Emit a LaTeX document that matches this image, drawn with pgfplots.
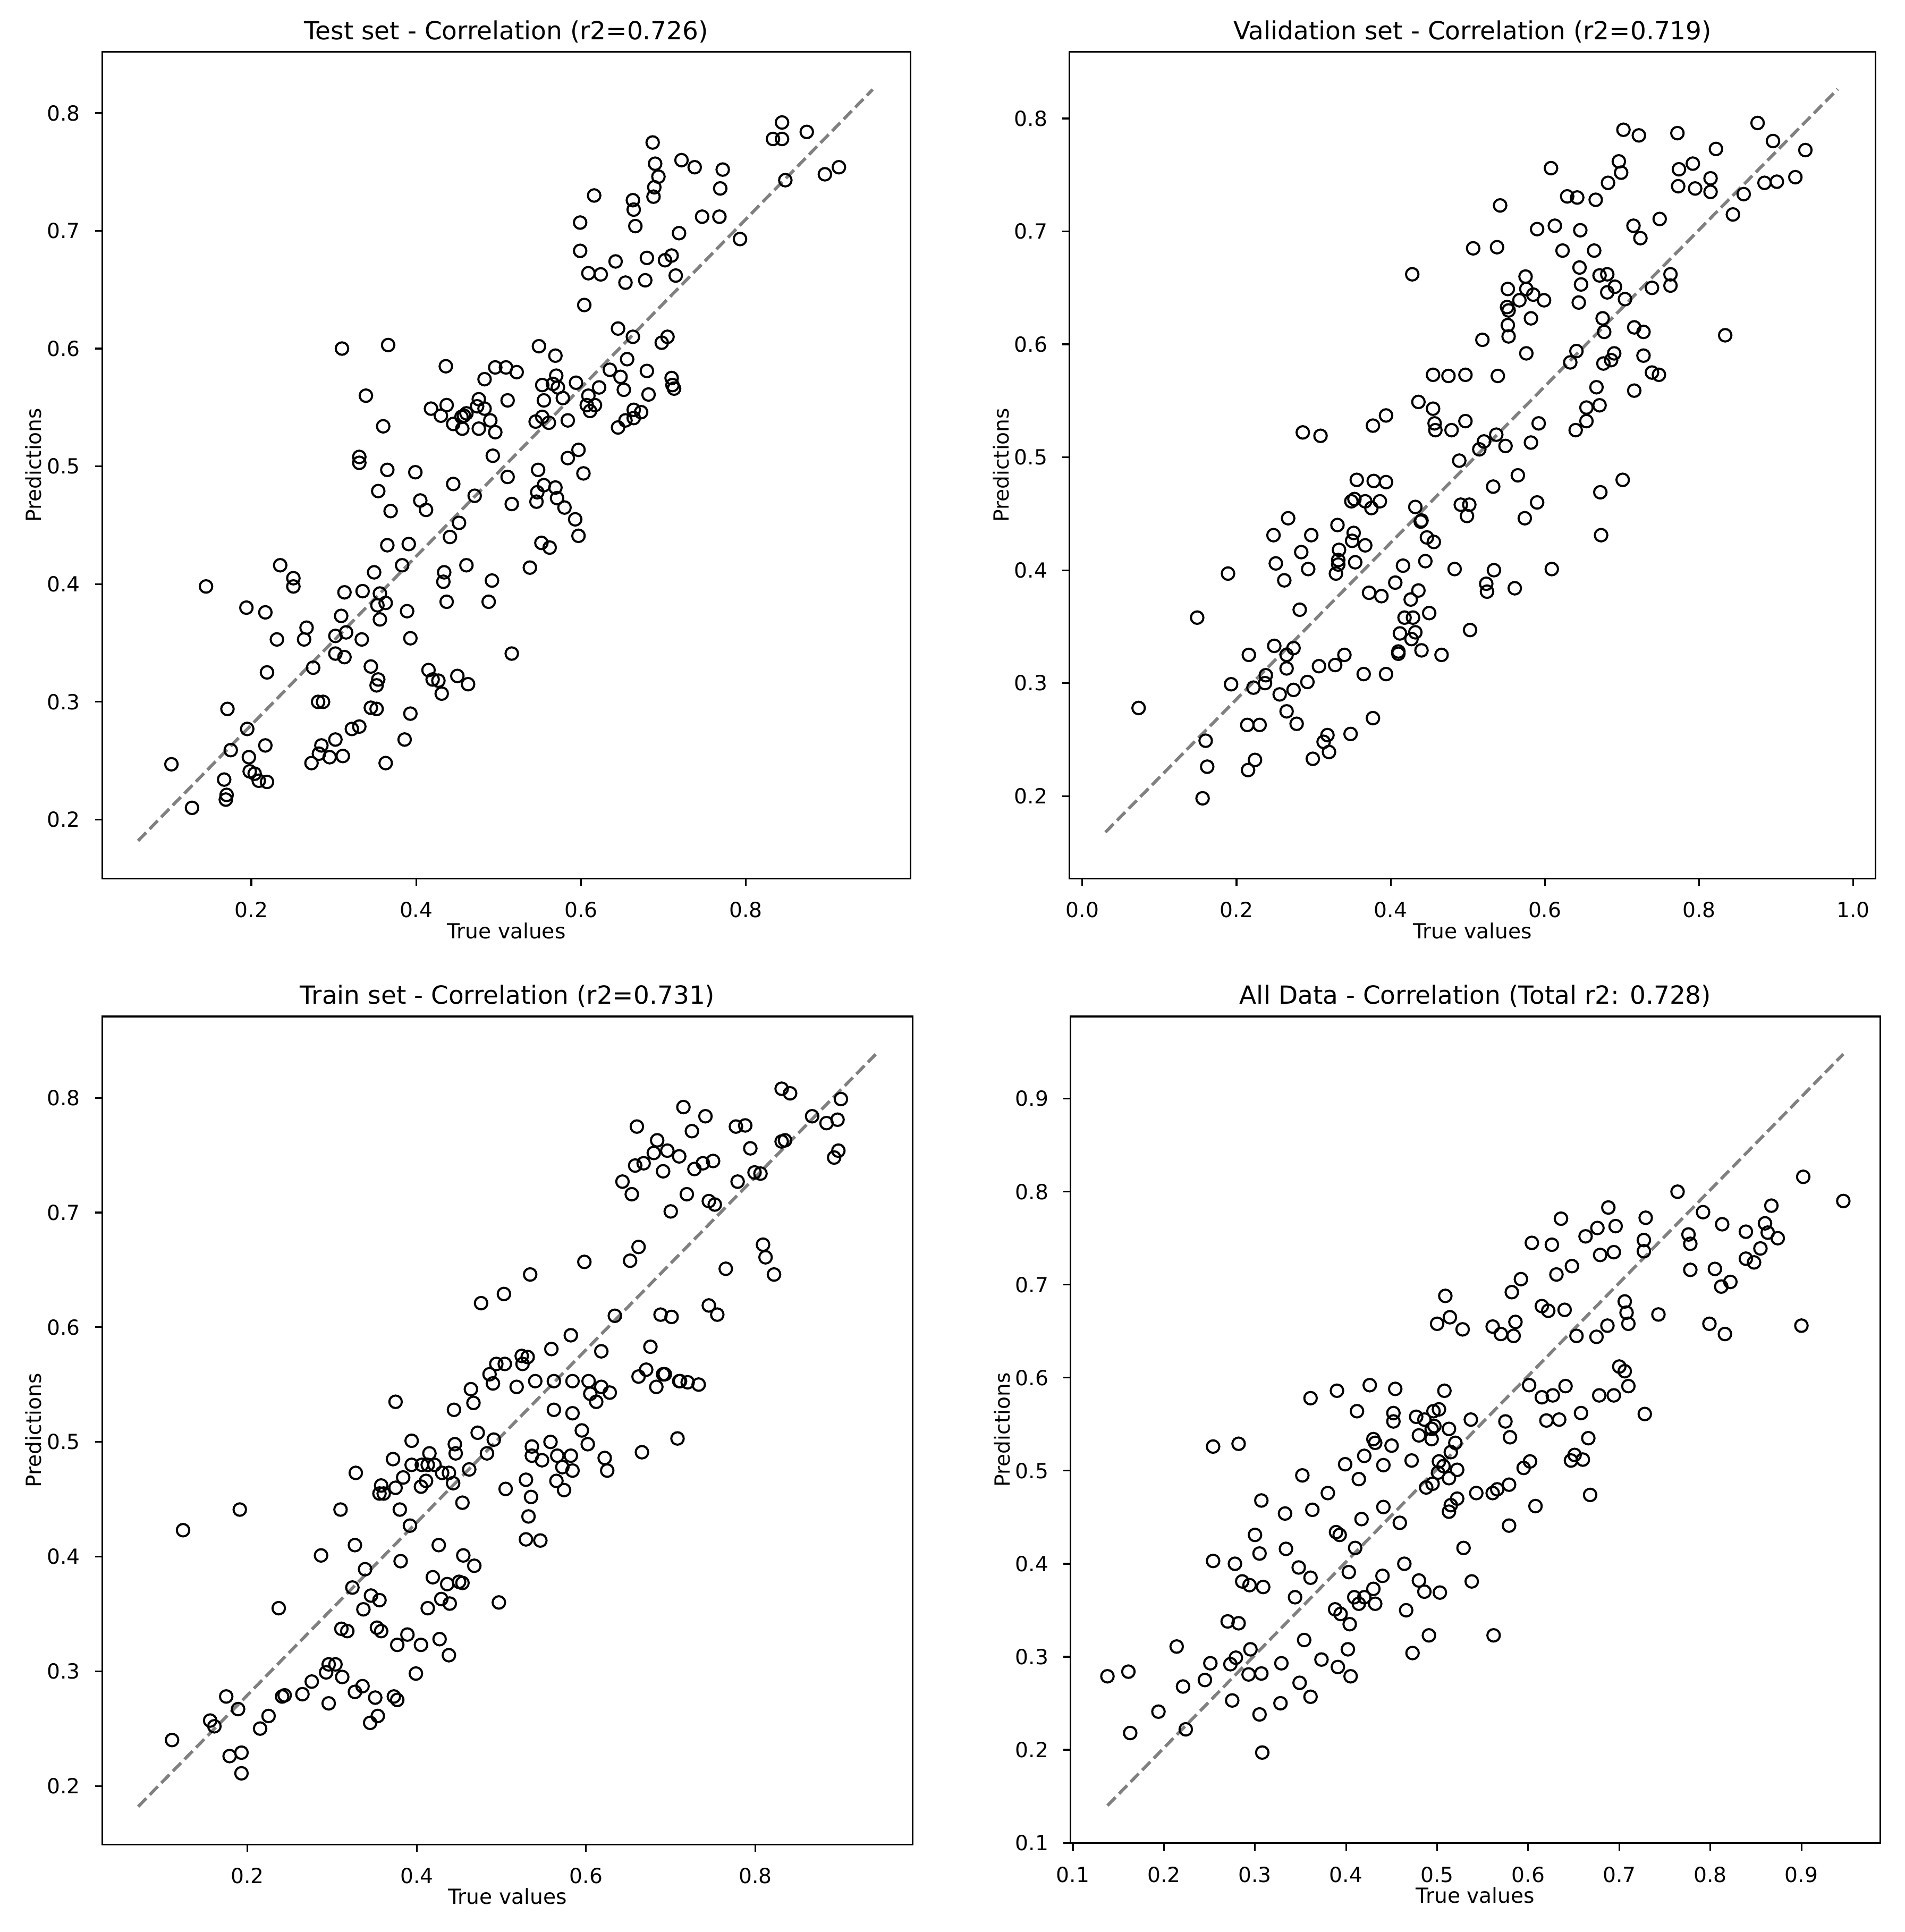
\documentclass[border=0pt]{standalone}
\usepackage{fontspec}
\setmainfont{DejaVu Sans}
\usepackage{pgfplots}
\pgfplotsset{compat=1.18}
\definecolor{refgray}{HTML}{808080}

\pgfplotsset{
  corr/.style={
    scale only axis,
    anchor=south west,
    axis line style={line width=0.8pt},
    every tick/.style={black, line width=0.8pt},
    major tick length=3.5pt,
    tick align=outside,
    tick pos=left,
    scaled ticks=false,
    clip=false,
    /pgf/number format/fixed,
    /pgf/number format/fixed zerofill,
    /pgf/number format/precision=1,
    /pgf/number format/assume math mode=true,
    ticklabel style={font=\fontsize{10}{12}\selectfont},
    xticklabel style={anchor=base, inner sep=0pt, yshift=-15.3pt},
    yticklabel style={anchor=east, inner sep=0pt, xshift=-7pt},
    title style={font=\fontsize{12}{14}\selectfont, at={(axis description cs:0.5,1)}, anchor=base, yshift=0pt, inner sep=0pt},
    xlabel={True values},
    ylabel={Predictions},
    label style={font=\fontsize{10}{12}\selectfont, inner sep=0pt},
    xlabel style={at={(axis description cs:0.5,0)}, anchor=base, yshift=-28.8pt},
    ylabel style={at={(axis description cs:-0.0754,0.5)}, anchor=base},
  },
  pts/.style={only marks, mark=o, mark size=3pt, black, mark options={line width=1pt, black}},
  diag/.style={refgray, line width=1.5pt, dash pattern=on 5.55pt off 2.4pt, no marks},
}

\begin{document}
\begin{tikzpicture}
\path[use as bounding box] (0pt,0pt) rectangle (915.2pt,-928.3pt);

% ---- test set ----
\begin{axis}[corr,
  at={(49.1pt,-422.1pt)}, width=388.4pt, height=397.2pt,
  title={Test set - Correlation (r2=0.726)},
  xmin=0.019, xmax=1.0, ymin=0.150, ymax=0.852,
  xtick={0.2,0.4,0.6,0.8}, ytick={0.2,0.3,0.4,0.5,0.6,0.7,0.8}]
\addplot[pts] coordinates {
(0.844,0.792)(0.874,0.784)(0.833,0.778)(0.844,0.778)(0.687,0.775)(0.722,0.760)(0.738,0.754)(0.690,0.757)(0.772,0.752)(0.896,0.748)
(0.913,0.754)(0.694,0.746)(0.848,0.743)(0.689,0.737)(0.769,0.736)(0.688,0.729)(0.616,0.730)(0.663,0.726)(0.664,0.718)(0.666,0.704)
(0.599,0.707)(0.747,0.712)(0.768,0.712)(0.719,0.698)(0.793,0.693)(0.599,0.683)(0.642,0.674)(0.680,0.677)(0.702,0.675)(0.710,0.679)
(0.609,0.664)(0.624,0.663)(0.654,0.656)(0.678,0.658)(0.715,0.662)(0.604,0.637)(0.645,0.617)(0.663,0.610)(0.705,0.610)(0.698,0.605)
(0.310,0.600)(0.366,0.603)(0.549,0.602)(0.569,0.594)(0.656,0.591)(0.436,0.585)(0.496,0.584)(0.509,0.584)(0.522,0.580)(0.635,0.582)
(0.680,0.581)(0.648,0.576)(0.570,0.577)(0.483,0.574)(0.710,0.575)(0.711,0.569)(0.713,0.566)(0.553,0.569)(0.566,0.570)(0.572,0.567)
(0.594,0.571)(0.622,0.567)(0.652,0.565)(0.339,0.560)(0.555,0.556)(0.578,0.558)(0.682,0.561)(0.609,0.560)(0.511,0.556)(0.476,0.557)
(0.474,0.551)(0.483,0.549)(0.418,0.549)(0.437,0.552)(0.430,0.543)(0.458,0.543)(0.461,0.545)(0.455,0.542)(0.445,0.536)(0.456,0.532)
(0.476,0.532)(0.490,0.539)(0.496,0.529)(0.607,0.552)(0.611,0.547)(0.617,0.552)(0.545,0.538)(0.553,0.542)(0.561,0.537)(0.584,0.539)
(0.664,0.548)(0.673,0.546)(0.664,0.541)(0.654,0.539)(0.645,0.533)(0.360,0.534)(0.597,0.514)(0.584,0.507)(0.493,0.509)(0.331,0.508)
(0.331,0.503)(0.365,0.497)(0.399,0.495)(0.548,0.497)(0.603,0.494)(0.511,0.491)(0.354,0.479)(0.445,0.485)(0.555,0.484)(0.569,0.482)
(0.547,0.478)(0.571,0.473)(0.546,0.470)(0.471,0.475)(0.405,0.471)(0.412,0.463)(0.369,0.462)(0.516,0.468)(0.580,0.465)(0.593,0.455)
(0.452,0.452)(0.597,0.441)(0.441,0.440)(0.365,0.433)(0.391,0.434)(0.552,0.435)(0.562,0.431)(0.235,0.416)(0.383,0.416)(0.461,0.416)
(0.538,0.414)(0.251,0.405)(0.251,0.398)(0.349,0.410)(0.434,0.410)(0.433,0.402)(0.492,0.403)(0.145,0.398)(0.313,0.393)(0.335,0.394)
(0.356,0.392)(0.353,0.382)(0.363,0.384)(0.437,0.385)(0.488,0.385)(0.194,0.380)(0.217,0.376)(0.389,0.377)(0.356,0.370)(0.309,0.373)
(0.267,0.363)(0.231,0.353)(0.264,0.353)(0.302,0.356)(0.315,0.359)(0.334,0.353)(0.393,0.354)(0.302,0.341)(0.313,0.338)(0.516,0.341)
(0.219,0.325)(0.275,0.329)(0.345,0.330)(0.354,0.319)(0.352,0.314)(0.415,0.327)(0.420,0.319)(0.427,0.318)(0.431,0.307)(0.450,0.322)
(0.463,0.315)(0.171,0.294)(0.281,0.300)(0.287,0.300)(0.345,0.295)(0.352,0.294)(0.393,0.290)(0.195,0.277)(0.322,0.277)(0.331,0.279)
(0.386,0.268)(0.175,0.259)(0.217,0.263)(0.285,0.263)(0.302,0.268)(0.282,0.256)(0.295,0.253)(0.311,0.254)(0.273,0.248)(0.363,0.248)
(0.197,0.253)(0.103,0.247)(0.198,0.241)(0.204,0.239)(0.209,0.233)(0.219,0.232)(0.167,0.234)(0.170,0.221)(0.169,0.217)(0.128,0.210)
};
\addplot[diag] coordinates {(0.0625,0.182) (0.954,0.820)};
\end{axis}

% ---- validation set ----
\begin{axis}[corr,
  at={(513.9pt,-422.1pt)}, width=387.2pt, height=397.2pt,
  title={Validation set - Correlation (r2=0.719)},
  xmin=-0.0165, xmax=1.029, ymin=0.127, ymax=0.859,
  xtick={0,0.2,0.4,0.6,0.8,1}, ytick={0.2,0.3,0.4,0.5,0.6,0.7,0.8}]
\addplot[pts] coordinates {
(0.876,0.796)(0.702,0.790)(0.722,0.785)(0.772,0.787)(0.896,0.780)(0.938,0.772)(0.822,0.773)(0.608,0.756)(0.696,0.762)(0.699,0.752)
(0.774,0.755)(0.792,0.760)(0.682,0.743)(0.773,0.740)(0.795,0.738)(0.815,0.747)(0.815,0.735)(0.885,0.743)(0.901,0.744)(0.925,0.748)
(0.629,0.731)(0.642,0.730)(0.666,0.728)(0.858,0.733)(0.542,0.723)(0.844,0.715)(0.590,0.702)(0.613,0.705)(0.646,0.701)(0.715,0.705)
(0.749,0.711)(0.724,0.694)(0.507,0.685)(0.538,0.686)(0.623,0.683)(0.664,0.683)(0.645,0.668)(0.428,0.662)(0.575,0.660)(0.671,0.661)
(0.681,0.662)(0.763,0.662)(0.763,0.652)(0.552,0.649)(0.576,0.649)(0.585,0.644)(0.599,0.639)(0.647,0.653)(0.681,0.646)(0.691,0.651)
(0.704,0.640)(0.739,0.650)(0.567,0.639)(0.551,0.633)(0.553,0.630)(0.644,0.637)(0.582,0.623)(0.552,0.617)(0.553,0.607)(0.675,0.623)
(0.677,0.611)(0.716,0.615)(0.728,0.611)(0.834,0.608)(0.519,0.604)(0.576,0.592)(0.641,0.594)(0.690,0.592)(0.728,0.590)(0.633,0.584)
(0.676,0.583)(0.686,0.586)(0.739,0.575)(0.748,0.573)(0.455,0.573)(0.475,0.572)(0.497,0.573)(0.539,0.572)(0.667,0.562)(0.716,0.559)
(0.436,0.549)(0.455,0.543)(0.654,0.544)(0.671,0.546)(0.394,0.537)(0.377,0.528)(0.457,0.530)(0.458,0.524)(0.479,0.524)(0.497,0.532)
(0.592,0.530)(0.654,0.532)(0.640,0.524)(0.286,0.522)(0.309,0.519)(0.537,0.520)(0.521,0.514)(0.515,0.507)(0.549,0.510)(0.582,0.513)
(0.489,0.497)(0.565,0.484)(0.356,0.480)(0.378,0.479)(0.394,0.478)(0.533,0.474)(0.701,0.480)(0.672,0.469)(0.349,0.461)(0.353,0.463)
(0.367,0.461)(0.375,0.455)(0.386,0.461)(0.432,0.456)(0.491,0.458)(0.502,0.458)(0.499,0.448)(0.590,0.460)(0.440,0.444)(0.439,0.443)
(0.574,0.446)(0.267,0.446)(0.248,0.431)(0.297,0.431)(0.331,0.440)(0.352,0.433)(0.350,0.426)(0.367,0.422)(0.447,0.429)(0.456,0.425)
(0.673,0.431)(0.284,0.416)(0.333,0.418)(0.332,0.409)(0.332,0.405)(0.329,0.397)(0.354,0.407)(0.251,0.406)(0.293,0.401)(0.262,0.391)
(0.189,0.397)(0.445,0.408)(0.416,0.404)(0.483,0.401)(0.534,0.400)(0.609,0.401)(0.524,0.388)(0.525,0.381)(0.561,0.384)(0.406,0.389)
(0.372,0.380)(0.388,0.377)(0.436,0.382)(0.426,0.374)(0.282,0.365)(0.149,0.358)(0.418,0.358)(0.429,0.358)(0.450,0.362)(0.412,0.344)
(0.427,0.339)(0.432,0.345)(0.503,0.347)(0.410,0.328)(0.410,0.326)(0.440,0.329)(0.466,0.325)(0.249,0.333)(0.274,0.331)(0.216,0.325)
(0.265,0.325)(0.340,0.325)(0.238,0.307)(0.237,0.300)(0.265,0.313)(0.307,0.315)(0.328,0.316)(0.365,0.308)(0.394,0.308)(0.193,0.299)
(0.222,0.296)(0.256,0.290)(0.274,0.294)(0.292,0.301)(0.073,0.278)(0.265,0.275)(0.214,0.263)(0.230,0.263)(0.278,0.264)(0.377,0.269)
(0.348,0.255)(0.318,0.254)(0.313,0.248)(0.320,0.239)(0.160,0.249)(0.299,0.233)(0.224,0.232)(0.162,0.226)(0.215,0.223)(0.156,0.198)
};
\addplot[diag] coordinates {(0.030,0.168) (0.980,0.826)};
\end{axis}

% ---- train set ----
\begin{axis}[corr,
  at={(49.1pt,-886.2pt)}, width=389.5pt, height=397.8pt,
  title={Train set - Correlation (r2=0.731)},
  xmin=0.0285, xmax=0.986, ymin=0.149, ymax=0.871,
  xtick={0.2,0.4,0.6,0.8}, ytick={0.2,0.3,0.4,0.5,0.6,0.7,0.8}]
\addplot[pts] coordinates {
(0.831,0.808)(0.841,0.804)(0.901,0.799)(0.715,0.792)(0.741,0.784)(0.867,0.784)(0.884,0.778)(0.897,0.781)(0.660,0.775)(0.725,0.771)
(0.777,0.775)(0.788,0.776)(0.684,0.763)(0.696,0.754)(0.680,0.752)(0.710,0.749)(0.831,0.762)(0.835,0.763)(0.794,0.756)(0.658,0.741)
(0.668,0.743)(0.691,0.736)(0.728,0.738)(0.738,0.743)(0.750,0.745)(0.898,0.754)(0.893,0.748)(0.799,0.735)(0.806,0.734)(0.643,0.727)
(0.654,0.716)(0.719,0.716)(0.779,0.727)(0.745,0.710)(0.752,0.707)(0.700,0.701)(0.809,0.672)(0.812,0.661)(0.822,0.646)(0.662,0.670)
(0.652,0.658)(0.598,0.657)(0.534,0.646)(0.503,0.629)(0.476,0.621)(0.765,0.651)(0.745,0.619)(0.755,0.611)(0.688,0.611)(0.701,0.609)
(0.634,0.610)(0.582,0.593)(0.676,0.583)(0.618,0.579)(0.559,0.581)(0.494,0.568)(0.504,0.568)(0.524,0.575)(0.531,0.574)(0.525,0.568)
(0.486,0.559)(0.490,0.551)(0.518,0.548)(0.540,0.553)(0.562,0.553)(0.584,0.553)(0.603,0.553)(0.618,0.548)(0.628,0.543)(0.605,0.542)
(0.612,0.535)(0.662,0.557)(0.671,0.563)(0.691,0.559)(0.693,0.559)(0.683,0.548)(0.710,0.553)(0.711,0.553)(0.720,0.552)(0.733,0.550)
(0.464,0.546)(0.467,0.534)(0.375,0.535)(0.444,0.528)(0.562,0.528)(0.584,0.525)(0.472,0.508)(0.491,0.502)(0.394,0.501)(0.445,0.498)
(0.446,0.490)(0.483,0.490)(0.536,0.496)(0.558,0.500)(0.595,0.510)(0.602,0.498)(0.372,0.485)(0.394,0.480)(0.406,0.480)(0.415,0.490)
(0.413,0.480)(0.421,0.480)(0.430,0.473)(0.438,0.473)(0.384,0.469)(0.405,0.461)(0.411,0.466)(0.328,0.473)(0.358,0.462)(0.356,0.455)
(0.361,0.455)(0.375,0.460)(0.443,0.464)(0.462,0.476)(0.536,0.488)(0.548,0.484)(0.566,0.488)(0.582,0.488)(0.572,0.478)(0.584,0.475)
(0.622,0.486)(0.625,0.475)(0.666,0.491)(0.708,0.503)(0.529,0.467)(0.565,0.466)(0.574,0.458)(0.505,0.459)(0.535,0.452)(0.454,0.447)
(0.191,0.441)(0.310,0.441)(0.380,0.441)(0.532,0.435)(0.124,0.423)(0.392,0.427)(0.529,0.415)(0.546,0.414)(0.327,0.410)(0.426,0.410)
(0.287,0.401)(0.455,0.401)(0.381,0.396)(0.468,0.392)(0.339,0.389)(0.419,0.382)(0.436,0.376)(0.450,0.378)(0.454,0.377)(0.324,0.373)
(0.346,0.366)(0.356,0.362)(0.429,0.363)(0.439,0.359)(0.497,0.360)(0.237,0.355)(0.337,0.354)(0.413,0.355)(0.311,0.337)(0.318,0.335)
(0.353,0.338)(0.358,0.335)(0.389,0.332)(0.377,0.323)(0.405,0.323)(0.427,0.328)(0.438,0.314)(0.296,0.306)(0.304,0.306)(0.293,0.299)
(0.312,0.295)(0.399,0.298)(0.276,0.291)(0.175,0.278)(0.241,0.278)(0.244,0.279)(0.265,0.280)(0.327,0.282)(0.336,0.287)(0.351,0.277)
(0.373,0.278)(0.377,0.275)(0.296,0.272)(0.189,0.267)(0.156,0.257)(0.161,0.252)(0.225,0.261)(0.215,0.250)(0.354,0.261)(0.345,0.255)
(0.111,0.240)(0.179,0.226)(0.193,0.229)(0.193,0.211)
};
\addplot[diag] coordinates {(0.071,0.182) (0.942,0.838)};
\end{axis}

% ---- all data ----
\begin{axis}[corr,
  at={(514.4pt,-885.6pt)}, width=388.9pt, height=397.2pt,
  title={All Data - Correlation (Total r2: 0.728)},
  xmin=0.0976, xmax=0.9864, ymin=0.0996, ymax=0.9884,
  xtick={0.1,0.2,0.3,0.4,0.5,0.6,0.7,0.8,0.9}, ytick={0.1,0.2,0.3,0.4,0.5,0.6,0.7,0.8,0.9}]
\addplot[pts] coordinates {
(0.902,0.816)(0.946,0.790)(0.764,0.800)(0.688,0.783)(0.867,0.785)(0.792,0.778)(0.636,0.771)(0.729,0.772)(0.813,0.765)(0.860,0.766)
(0.676,0.761)(0.696,0.763)(0.663,0.752)(0.839,0.757)(0.863,0.756)(0.874,0.750)(0.776,0.754)(0.727,0.748)(0.778,0.744)(0.604,0.745)
(0.626,0.743)(0.679,0.732)(0.694,0.735)(0.727,0.736)(0.855,0.739)(0.839,0.728)(0.848,0.724)(0.648,0.720)(0.631,0.711)(0.778,0.716)
(0.805,0.717)(0.592,0.706)(0.812,0.698)(0.822,0.703)(0.582,0.692)(0.509,0.688)(0.615,0.677)(0.622,0.672)(0.640,0.673)(0.706,0.682)
(0.708,0.670)(0.710,0.658)(0.743,0.668)(0.514,0.665)(0.500,0.658)(0.528,0.652)(0.561,0.655)(0.570,0.647)(0.584,0.645)(0.586,0.660)
(0.653,0.645)(0.675,0.644)(0.687,0.656)(0.799,0.658)(0.816,0.647)(0.900,0.656)(0.700,0.612)(0.706,0.607)(0.710,0.591)(0.728,0.561)
(0.601,0.592)(0.615,0.579)(0.627,0.581)(0.641,0.591)(0.678,0.581)(0.694,0.581)(0.361,0.578)(0.390,0.586)(0.426,0.592)(0.454,0.588)
(0.508,0.586)(0.412,0.564)(0.452,0.562)(0.452,0.553)(0.477,0.558)(0.486,0.555)(0.496,0.564)(0.502,0.566)(0.494,0.545)(0.497,0.548)
(0.513,0.545)(0.480,0.538)(0.494,0.534)(0.430,0.534)(0.432,0.530)(0.450,0.527)(0.520,0.530)(0.420,0.516)(0.399,0.507)(0.441,0.506)
(0.472,0.511)(0.502,0.510)(0.507,0.505)(0.515,0.520)(0.522,0.501)(0.501,0.498)(0.414,0.491)(0.352,0.495)(0.575,0.553)(0.580,0.536)
(0.537,0.555)(0.620,0.554)(0.634,0.555)(0.658,0.562)(0.666,0.535)(0.651,0.517)(0.647,0.511)(0.660,0.512)(0.595,0.503)(0.602,0.510)
(0.380,0.476)(0.363,0.458)(0.307,0.468)(0.333,0.454)(0.300,0.431)(0.305,0.411)(0.334,0.416)(0.441,0.461)(0.417,0.448)(0.459,0.444)
(0.389,0.434)(0.393,0.431)(0.410,0.417)(0.488,0.482)(0.495,0.486)(0.513,0.492)(0.513,0.456)(0.515,0.463)(0.522,0.470)(0.543,0.476)
(0.561,0.476)(0.566,0.480)(0.579,0.485)(0.608,0.462)(0.579,0.441)(0.668,0.474)(0.529,0.417)(0.254,0.403)(0.278,0.400)(0.348,0.396)
(0.361,0.385)(0.286,0.381)(0.294,0.377)(0.309,0.375)(0.344,0.364)(0.403,0.391)(0.440,0.387)(0.430,0.373)(0.409,0.364)(0.414,0.357)
(0.420,0.364)(0.432,0.357)(0.388,0.351)(0.394,0.346)(0.404,0.335)(0.464,0.400)(0.480,0.382)(0.486,0.370)(0.503,0.369)(0.538,0.381)
(0.466,0.350)(0.491,0.323)(0.473,0.304)(0.562,0.323)(0.270,0.338)(0.282,0.336)(0.214,0.311)(0.251,0.293)(0.273,0.292)(0.279,0.299)
(0.295,0.308)(0.293,0.281)(0.307,0.282)(0.329,0.293)(0.354,0.318)(0.373,0.297)(0.391,0.289)(0.402,0.308)(0.405,0.279)(0.349,0.272)
(0.361,0.257)(0.245,0.275)(0.221,0.268)(0.275,0.253)(0.328,0.250)(0.305,0.238)(0.138,0.279)(0.161,0.284)(0.194,0.241)(0.163,0.218)
(0.224,0.222)(0.308,0.197)(0.254,0.526)(0.282,0.529)
};
\addplot[diag] coordinates {(0.138,0.140) (0.946,0.948)};
\end{axis}
\end{tikzpicture}
\end{document}
